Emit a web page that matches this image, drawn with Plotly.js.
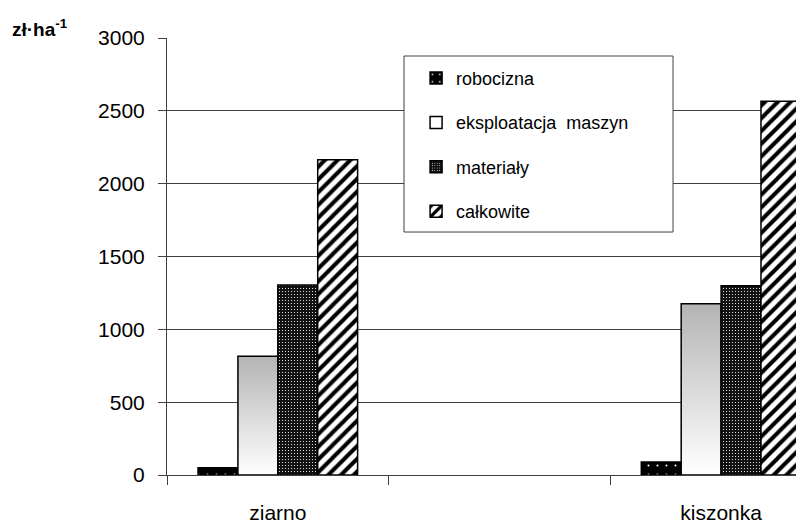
<!DOCTYPE html>
<html>
<head>
<meta charset="utf-8">
<script src="https://cdn.plot.ly/plotly-3.0.1.min.js"></script>
<style>
  html, body { margin: 0; padding: 0; background: #ffffff; }
  #chart { width: 796px; height: 524px; }
</style>
</head>
<body>
<div id="chart"></div>
<script>
// ---- data ----
var categories = ['ziarno', ' ', 'kiszonka'];
var groupCats = ['ziarno', 'kiszonka'];
var seriesNames = ['robocizna', 'eksploatacja\u00a0 maszyn', 'materiały', 'całkowite'];
var robocizna = [50, 90];
var eksploatacja = [815, 1175];
var materialy = [1305, 1300];
var calkowite = [2165, 2565];
var yTicks = [0, 500, 1000, 1500, 2000, 2500, 3000];
var yUnit = 'zł·ha<sup>-1</sup>';

var FONT = 'Liberation Sans, Arial, sans-serif';
var lineStyle = { color: '#000000', width: 1.5 };

var data = [
  {
    type: 'bar', name: seriesNames[0], x: groupCats, y: robocizna,
    legendgroup: 'a',
    marker: { color: '#000000', line: lineStyle,
      pattern: { shape: '.', bgcolor: '#000000', fgcolor: '#ffffff', size: 9, solidity: 0.04 } }
  },
  {
    type: 'bar', name: seriesNames[1], x: groupCats, y: eksploatacja,
    legendgroup: 'b',
    marker: { color: '#ffffff', line: lineStyle }
  },
  {
    type: 'bar', name: seriesNames[2], x: groupCats, y: materialy,
    legendgroup: 'c',
    marker: { color: '#111111', line: lineStyle,
      pattern: { shape: '.', bgcolor: '#111111', fgcolor: '#ffffff', size: 3, solidity: 0.12 } }
  },
  {
    type: 'bar', name: seriesNames[3], x: groupCats, y: calkowite,
    legendgroup: 'd',
    marker: { color: '#ffffff', line: lineStyle,
      pattern: { shape: '/', bgcolor: '#ffffff', fgcolor: '#000000', size: 9, solidity: 0.45 } }
  }
];

var layout = {
  width: 796, height: 524,
  margin: { l: 167, r: 0, t: 38, b: 49, pad: 0 },
  paper_bgcolor: '#ffffff', plot_bgcolor: '#ffffff',
  font: { family: FONT, size: 21, color: '#000000' },
  barmode: 'group', bargap: 0.28, bargroupgap: 0,
  showlegend: true,
  legend: {
    x: 0.396, xanchor: 'left', y: 0.95, yanchor: 'top',
    bgcolor: 'rgba(0,0,0,0)', borderwidth: 0,
    font: { family: FONT, size: 18, color: '#000000' },
    traceorder: 'grouped', tracegroupgap: 18, itemwidth: 30
  },
  xaxis: {
    type: 'category', categoryorder: 'array', categoryarray: categories,
    range: [-0.5, 2.338], tickson: 'boundaries',
    showline: true, linecolor: '#404040', linewidth: 1,
    ticks: 'outside', ticklen: 9, tickcolor: '#404040', tickwidth: 1,
    showgrid: false, zeroline: false,
    tickfont: { family: FONT, size: 21, color: '#000000' },
    ticklabelstandoff: 19, fixedrange: true
  },
  yaxis: {
    range: [0, 3000], tickvals: yTicks, ticktext: yTicks.map(String),
    showline: true, linecolor: '#404040', linewidth: 1,
    ticks: 'outside', ticklen: 8, tickcolor: '#404040', tickwidth: 1,
    showgrid: true, gridcolor: '#404040', gridwidth: 1,
    zeroline: false,
    tickfont: { family: FONT, size: 21, color: '#000000' },
    ticklabelstandoff: 9, fixedrange: true
  },
  shapes: [{
    type: 'rect', xref: 'paper', yref: 'paper', layer: 'above',
    x0: 0.3768, x1: 0.8045, y0: 0.556, y1: 0.9588,
    line: { color: '#404040', width: 1 }, fillcolor: '#ffffff'
  }],
  annotations: [{
    xref: 'paper', yref: 'paper', x: -0.25, y: 1.022,
    xanchor: 'left', yanchor: 'middle', showarrow: false,
    text: '<b>' + yUnit + '</b>',
    font: { family: FONT, size: 19, color: '#000000' }
  }]
};

Plotly.newPlot('chart', data, layout, { staticPlot: true, displayModeBar: false }).then(function (gd) {
  var NS = 'http://www.w3.org/2000/svg';
  var svg = gd.querySelector('svg.main-svg');
  var defs = svg.querySelector('defs');
  if (!defs) { defs = document.createElementNS(NS, 'defs'); svg.insertBefore(defs, svg.firstChild); }
  var lg = document.createElementNS(NS, 'linearGradient');
  lg.setAttribute('id', 'eksGrad');
  lg.setAttribute('x1', '0'); lg.setAttribute('y1', '0');
  lg.setAttribute('x2', '0'); lg.setAttribute('y2', '1');
  [['0', '#b4b4b4'], ['1', '#ffffff']].forEach(function (s) {
    var st = document.createElementNS(NS, 'stop');
    st.setAttribute('offset', s[0]);
    st.setAttribute('stop-color', s[1]);
    lg.appendChild(st);
  });
  defs.appendChild(lg);
  var traces = gd.querySelectorAll('.barlayer .trace');
  if (traces[1]) {
    traces[1].querySelectorAll('path').forEach(function (p) { p.style.fill = 'url(#eksGrad)'; });
  }
});
</script>
</body>
</html>
